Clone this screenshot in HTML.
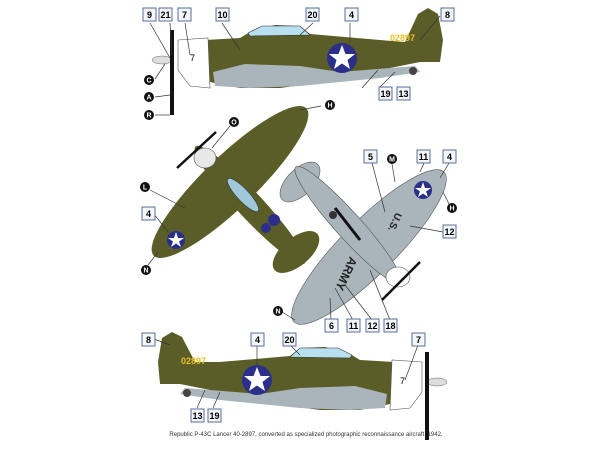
<!DOCTYPE html>
<html><head><style>
body{margin:0;background:#fff;width:600px;height:450px;overflow:hidden}
svg{display:block}
.b rect{fill:#f4f6fa;stroke:#5a6f9a;stroke-width:1}
.b text{font:bold 9px "Liberation Sans",sans-serif;fill:#000;text-anchor:middle}
.c circle{fill:#111}
.c text{font:bold 7px "Liberation Sans",sans-serif;fill:#fff;text-anchor:middle}
.l{stroke:#333;stroke-width:0.7;fill:none}
</style></head><body>
<svg width="600" height="450" viewBox="0 0 600 450" xmlns="http://www.w3.org/2000/svg">
<!-- TOP SIDE VIEW -->
<g>
<path d="M205,40 L240,38 L250,32 L275,25 L300,26 L310,34 L380,40 L405,42 L418,14 L428,8 L438,14 L443,40 L440,62 L420,62 L390,68 L355,78 L280,88 L240,88 L210,82 L205,60Z" fill="#5b5d28"/>
<path d="M213,72 L245,64 L300,66 L340,72 L390,68 L415,66 L420,72 L380,78 L340,82 L300,86 L250,88 L215,86Z" fill="#a9b4bb"/>
<path d="M248,33 L262,26 L300,26 L310,35 L250,36Z" fill="#b8e0f0" stroke="#333" stroke-width="0.6"/>
<path d="M178,40 L208,38 L210,88 L190,86 L178,70Z" fill="#fff" stroke="#555" stroke-width="0.6"/>
<ellipse cx="162" cy="60" rx="10" ry="4" fill="#ddd" stroke="#666" stroke-width="0.5"/>
<rect x="170" y="30" width="4" height="85" fill="#111"/>
<circle cx="413" cy="71" r="4" fill="#444"/>
<circle cx="342" cy="58" r="15" fill="#2c2f8a"/>
<polygon points="342,45 345.5,54 355,54 347.5,60 350,69 342,63.5 334,69 336.5,60 329,54 338.5,54" fill="#fff"/>
<text x="390" y="41" font-family="Liberation Sans" font-size="9" font-weight="bold" fill="#e8c020">02897</text>
<text x="190" y="61" font-family="Liberation Sans" font-size="9" fill="#000">7</text>
</g>
<!-- BOTTOM SIDE VIEW -->
<g>
<path d="M395,362 L360,360 L350,354 L325,347 L300,348 L290,356 L220,362 L195,362 L182,337 L172,332 L162,338 L158,362 L160,384 L180,384 L210,390 L245,400 L320,410 L360,410 L390,404 L395,382Z" fill="#5b5d28"/>
<path d="M387,394 L355,386 L300,388 L260,394 L210,390 L185,388 L180,394 L220,400 L260,404 L300,408 L350,410 L385,408Z" fill="#a9b4bb"/>
<path d="M352,355 L338,348 L300,348 L290,357 L350,358Z" fill="#b8e0f0" stroke="#333" stroke-width="0.6"/>
<path d="M422,362 L392,360 L390,410 L410,408 L422,392Z" fill="#fff" stroke="#555" stroke-width="0.6"/>
<ellipse cx="437" cy="382" rx="10" ry="4" fill="#ddd" stroke="#666" stroke-width="0.5"/>
<rect x="425" y="352" width="4" height="88" fill="#111"/>
<circle cx="187" cy="393" r="4" fill="#444"/>
<circle cx="257" cy="380" r="15" fill="#2c2f8a"/>
<polygon points="257,367 260.5,376 270,376 262.5,382 265,391 257,385.5 249,391 251.5,382 244,376 253.5,376" fill="#fff"/>
<text x="181" y="364" font-family="Liberation Sans" font-size="9" font-weight="bold" fill="#e8c020">02897</text>
<text x="400" y="384" font-family="Liberation Sans" font-size="9" fill="#000">7</text>
</g>
<!-- TOP VIEW OLIVE -->
<g>
<ellipse cx="0" cy="0" rx="106" ry="26" fill="#5b5d28" transform="translate(230,182) rotate(-44)"/>
<ellipse cx="0" cy="0" rx="28" ry="14" fill="#5b5d28" transform="translate(296,252) rotate(-40)"/>
<ellipse cx="0" cy="0" rx="80" ry="13" fill="#5b5d28" transform="translate(250,205) rotate(47)"/>
<ellipse cx="205" cy="158" rx="11" ry="10" fill="#e8e8e8" stroke="#555" stroke-width="0.6"/>
<line x1="177" y1="168" x2="216" y2="132" stroke="#111" stroke-width="2.5"/>
<ellipse cx="0" cy="0" rx="22" ry="6" fill="#9fc8da" stroke="#333" stroke-width="0.6" transform="translate(243,195) rotate(47)"/>
<circle cx="176" cy="240" r="9" fill="#2c2f8a"/>
<polygon points="176,232 178,238 184,238 179,241.5 181,247 176,243.5 171,247 173,241.5 168,238 174,238" fill="#fff"/>
<circle cx="274" cy="220" r="6" fill="#2c2f8a"/>
<circle cx="266" cy="228" r="5" fill="#2c2f8a"/>
</g>
<!-- UNDERSIDE GREY -->
<g stroke="#555" stroke-width="0.6">
<ellipse cx="0" cy="0" rx="25" ry="13" fill="#a9b4bb" transform="translate(300,182) rotate(-45)"/>
<ellipse cx="0" cy="0" rx="106" ry="27" fill="#a9b4bb" transform="translate(369,247) rotate(-45)"/>
<ellipse cx="0" cy="0" rx="78" ry="13" fill="#a9b4bb" transform="translate(348,225) rotate(48)"/>
<ellipse cx="398" cy="277" rx="12" ry="10" fill="#fff"/>
</g>
<line x1="382" y1="300" x2="420" y2="262" stroke="#111" stroke-width="2.5"/>
<line x1="335" y1="208" x2="360" y2="240" stroke="#111" stroke-width="3"/>
<circle cx="333" cy="215" r="4" fill="#333"/>
<circle cx="423" cy="190" r="9" fill="#2c2f8a"/>
<polygon points="423,182 425,188 431,188 426,191.5 428,197 423,193.5 418,197 420,191.5 415,188 421,188" fill="#fff"/>
<text x="0" y="0" font-family="Liberation Sans" font-size="12" font-weight="bold" fill="#222" transform="translate(350,256) rotate(115)">ARMY</text>
<text x="0" y="0" font-family="Liberation Sans" font-size="10" font-weight="bold" fill="#222" transform="translate(396,212) rotate(115)">U.S.</text>
<!-- leader lines -->
<g class="l">
<path d="M150,23 L170,58"/><path d="M170,23 L172,55"/><path d="M185,23 L190,55"/><path d="M222,23 L240,50"/><path d="M313,23 L300,35"/><path d="M350,23 L350,42"/><path d="M440,16 L420,40"/><path d="M362,88 L378,70"/><path d="M379,88 L395,72"/>
<path d="M155,79 L165,64"/><path d="M155,97 L170,95"/><path d="M155,115 L170,115"/>
<path d="M321,106 L300,110"/><path d="M230,126 L212,148"/><path d="M150,190 L185,208"/><path d="M154,214 L168,232"/><path d="M148,265 L158,252"/>
<path d="M372,163 L385,212"/><path d="M392,164 L395,182"/><path d="M424,163 L420,172"/><path d="M449,163 L440,178"/><path d="M451,208 L443,192"/><path d="M443,232 L410,226"/>
<path d="M331,320 L330,298"/><path d="M353,320 L335,288"/><path d="M372,320 L345,285"/><path d="M390,320 L370,270"/><path d="M282,312 L295,320"/>
<path d="M154,339 L170,345"/><path d="M257,345 L257,365"/><path d="M290,345 L300,355"/><path d="M418,345 L405,380"/><path d="M197,408 L205,390"/><path d="M213,408 L220,392"/>
</g>
<!-- boxes -->
<g class="b">
<rect x="143" y="8" width="13" height="13"/><text x="149.5" y="18">9</text>
<rect x="159" y="8" width="13" height="13"/><text x="165.5" y="18">21</text>
<rect x="178" y="8" width="13" height="13"/><text x="184.5" y="18">7</text>
<rect x="216" y="8" width="13" height="13"/><text x="222.5" y="18">10</text>
<rect x="306" y="8" width="13" height="13"/><text x="312.5" y="18">20</text>
<rect x="345" y="8" width="13" height="13"/><text x="351.5" y="18">4</text>
<rect x="441" y="8" width="13" height="13"/><text x="447.5" y="18">8</text>
<rect x="379" y="87" width="13" height="13"/><text x="385.5" y="97">19</text>
<rect x="397" y="87" width="13" height="13"/><text x="403.5" y="97">13</text>
<rect x="142" y="207" width="13" height="13"/><text x="148.5" y="217">4</text>
<rect x="364" y="150" width="13" height="13"/><text x="370.5" y="160">5</text>
<rect x="417" y="150" width="13" height="13"/><text x="423.5" y="160">11</text>
<rect x="443" y="150" width="13" height="13"/><text x="449.5" y="160">4</text>
<rect x="443" y="225" width="13" height="13"/><text x="449.5" y="235">12</text>
<rect x="325" y="319" width="13" height="13"/><text x="331.5" y="329">6</text>
<rect x="347" y="319" width="13" height="13"/><text x="353.5" y="329">11</text>
<rect x="366" y="319" width="13" height="13"/><text x="372.5" y="329">12</text>
<rect x="384" y="319" width="13" height="13"/><text x="390.5" y="329">18</text>
<rect x="142" y="333" width="13" height="13"/><text x="148.5" y="343">8</text>
<rect x="251" y="333" width="13" height="13"/><text x="257.5" y="343">4</text>
<rect x="283" y="333" width="13" height="13"/><text x="289.5" y="343">20</text>
<rect x="412" y="333" width="13" height="13"/><text x="418.5" y="343">7</text>
<rect x="191" y="409" width="13" height="13"/><text x="197.5" y="419">13</text>
<rect x="208" y="409" width="13" height="13"/><text x="214.5" y="419">19</text>
</g>
<!-- circles -->
<g class="c">
<circle cx="149" cy="80" r="5"/><text x="149" y="82.5">C</text>
<circle cx="149" cy="97" r="5"/><text x="149" y="99.5">A</text>
<circle cx="149" cy="115" r="5"/><text x="149" y="117.5">R</text>
<circle cx="330" cy="105" r="5"/><text x="330" y="107.5">H</text>
<circle cx="234" cy="122" r="5"/><text x="234" y="124.5">O</text>
<circle cx="145" cy="187" r="5"/><text x="145" y="189.5">L</text>
<circle cx="146" cy="270" r="5"/><text x="146" y="272.5">N</text>
<circle cx="392" cy="159" r="5"/><text x="392" y="161.5">M</text>
<circle cx="452" cy="208" r="5"/><text x="452" y="210.5">H</text>
<circle cx="278" cy="311" r="5"/><text x="278" y="313.5">N</text>
</g>
<text x="306" y="436" text-anchor="middle" font-family="Liberation Sans" font-size="6" fill="#333">Republic P-43C Lancer 40-2897, converted as specialized photographic reconnaissance aircraft, 1942.</text>
</svg>
</body></html>
